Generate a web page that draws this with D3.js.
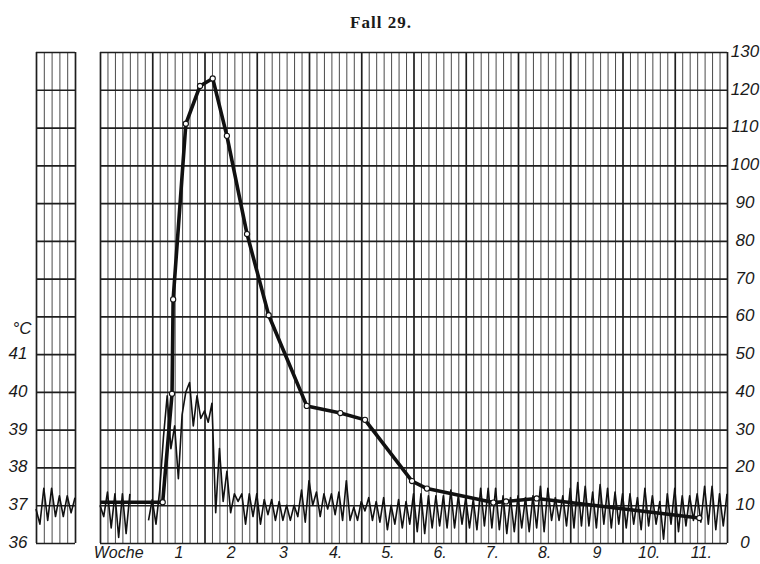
<!DOCTYPE html>
<html>
<head>
<meta charset="utf-8">
<script src="https://cdn.jsdelivr.net/npm/d3@7"></script>
<style>
    body { margin: 0; background: #fff; }
    svg text { font-family: "Liberation Sans", Arial, sans-serif; font-style: italic; fill: #1a1a1a; }
</style>
</head>
<body>
<svg id="chart" width="760" height="564"></svg>
<script>
// labels under the main panel, one per week
let WEEK_LABELS = ['Woche', '1', '2', '3', '4.', '5.', '6.', '7.', '8.', '9', '10.', '11.'];
// right hand scale
let RIGHT_TICKS = [0, 10, 20, 30, 40, 50, 60, 70, 80, 90, 100, 110, 120, 130];
// temperature scale on the left
let TEMP_TICKS = [36, 37, 38, 39, 40, 41];

// thick curve (right scale): day of the reading and its value
let CURVE_DAYS = [0, 8.4, 9.65, 9.8, 11.5, 13.4, 15.1, 17.0, 19.7, 22.6, 27.7, 32.2, 35.5, 41.8, 43.8, 52.7, 54.4, 58.5, 80.3];
let CURVE_VALUES = [10.8, 10.8, 39.5, 64.5, 111, 121, 123, 107.8, 81.8, 60.3, 36.3, 34.4, 32.6, 16.4, 14.4, 10.7, 11.0, 11.8, 6.6];

// temperature before the main chart (left strip), morning / evening, 5 days
let TEMP_PRE = [36.9, 36.5, 37.45, 36.6, 37.45, 36.7, 37.25, 36.7, 37.25, 36.8, 37.2];

// temperature, morning / evening readings (half a day apart), one line per week
// null = no reading
let TEMP_MAIN = [
    37.0, 36.7, 37.35, 36.4, 37.3, 36.15, 37.3, 36.25, 37.3, null, null, null, null, 36.6,
    37.15, 36.5, 37.4, 38.8, 39.9, 38.5, 39.1, 37.7, 39.4, 40.0, 40.25, 39.1, 39.9, 39.3,
    39.5, 39.2, 39.7, 36.8, 38.5, 37.1, 37.9, 36.8, 37.3, 37.1, 37.3, 36.5, 37.3, 36.7,
    37.3, 36.5, 37.15, 36.75, 37.15, 36.6, 37.1, 36.6, 37.0, 36.6, 37.0, 36.7, 37.4, 36.55,
    37.65, 37.0, 37.35, 36.7, 37.3, 36.9, 37.3, 36.75, 37.35, 36.6, 37.65, 36.6, 36.95, 36.6,
    37.1, 36.85, 37.2, 36.6, 37.1, 36.55, 37.2, 36.35, 37.0, 36.5, 37.15, 36.4, 37.1, 36.5,
    37.3, 36.3, 37.3, 36.25, 37.25, 36.4, 37.25, 36.45, 37.25, 36.4, 37.4, 36.4, 37.25, 36.5,
    37.2, 36.4, 37.15, 36.35, 37.45, 36.45, 37.45, 36.4, 37.45, 36.35, 37.25, 36.25, 37.2, 36.3,
    37.25, 36.4, 37.2, 36.3, 37.25, 36.4, 37.5, 36.3, 37.45, 36.6, 37.2, 36.6, 37.25, 36.45,
    37.45, 36.4, 37.6, 36.45, 37.5, 36.45, 37.35, 36.4, 37.55, 36.5, 37.45, 36.4, 37.35, 36.5,
    37.3, 36.4, 37.3, 36.5, 37.2, 36.35, 37.45, 36.45, 37.25, 36.5, 37.1, 36.1, 37.3, 36.5,
    37.45, 36.3, 37.25, 36.45, 37.25, 36.6, 37.3, 36.55, 37.5, 36.5, 37.5, 36.35, 37.3, 36.45,
    37.3
];

let TOP = 52, BOTTOM = 543;
let MAIN_LEFT = 100, MAIN_RIGHT = 727;
let PRE_LEFT = 36, PRE_RIGHT = 75;
let MAIN_DAYS = 84, PRE_DAYS = 5;

let svg = d3.select('#chart');

let y = d3.scaleLinear().domain([0, 130]).range([BOTTOM, TOP]);
// 1 degree = 10 units on the right scale, 36 sits on the bottom line
let yTemp = d3.scaleLinear().domain([36, 49]).range([BOTTOM, TOP]);
let xMain = d3.scaleLinear().domain([0, MAIN_DAYS]).range([MAIN_LEFT, MAIN_RIGHT]);
let xPre = d3.scaleLinear().domain([0, PRE_DAYS]).range([PRE_LEFT, PRE_RIGHT]);

// title
svg.append('text')
    .attr('x', 381).attr('y', 28)
    .attr('text-anchor', 'middle')
    .style('font-family', '"Liberation Serif", "DejaVu Serif", serif')
    .style('font-style', 'normal')
    .style('font-weight', 'bold')
    .style('font-size', '17px')
    .style('letter-spacing', '1px')
    .text('Fall 29.');

// grid for one panel: daily vertical lines, heavier every week, horizontal every 10
function drawGrid(x, left, right, days) {
    let g = svg.append('g');
    let heavy = d => (d % 7 === 0 && x === xMain) || d === 0 || d === days;
    g.append('g')
        .attr('transform', `translate(0,${BOTTOM})`)
        .call(d3.axisBottom(x).tickValues(d3.range(0, days + 1)).tickSize(-(BOTTOM - TOP)).tickFormat(''))
        .call(a => a.select('.domain').remove())
        .call(a => a.selectAll('.tick line')
            .attr('stroke', d => heavy(d) ? '#1e1e1e' : '#4a4a4a')
            .attr('stroke-width', d => heavy(d) ? 1.7 : 1));
    g.append('g')
        .attr('transform', `translate(${left},0)`)
        .call(d3.axisLeft(y).tickValues(RIGHT_TICKS).tickSize(-(right - left)).tickFormat(''))
        .call(a => a.select('.domain').remove())
        .call(a => a.selectAll('.tick line').attr('stroke', '#1e1e1e').attr('stroke-width', 1.7));
}
drawGrid(xPre, PRE_LEFT, PRE_RIGHT, PRE_DAYS);
drawGrid(xMain, MAIN_LEFT, MAIN_RIGHT, MAIN_DAYS);

// right axis labels
svg.append('g')
    .attr('transform', 'translate(745,-1)')
    .call(d3.axisRight(y).tickValues(RIGHT_TICKS).tickSize(0).tickPadding(0))
    .call(a => a.select('.domain').remove())
    .call(a => a.selectAll('text')
        .attr('text-anchor', 'middle')
        .style('font-size', '17px'));

// temperature labels on the left
svg.append('g')
    .attr('transform', 'translate(18,-1)')
    .call(d3.axisRight(yTemp).tickValues(TEMP_TICKS).tickSize(0).tickPadding(0))
    .call(a => a.select('.domain').remove())
    .call(a => a.selectAll('text')
        .attr('text-anchor', 'middle')
        .style('font-size', '17px'));
svg.append('text')
    .attr('x', 22).attr('y', 334)
    .attr('text-anchor', 'middle')
    .style('font-size', '17px')
    .text('°C');

// week labels
svg.append('g')
    .attr('transform', `translate(0,${BOTTOM})`)
    .call(d3.axisBottom(xMain)
        .tickValues(WEEK_LABELS.map((d, i) => i * 7 + 3.5))
        .tickSize(0).tickPadding(4)
        .tickFormat((d, i) => WEEK_LABELS[i]))
    .call(a => a.select('.domain').remove())
    .call(a => a.selectAll('text')
        .attr('dx', (d, i) => i === 0 ? -8 : 0)
        .style('font-size', '16px'));

// temperature curves
let tempLine = x => d3.line()
    .defined(d => d != null)
    .x((d, i) => x(i * 0.5))
    .y(d => yTemp(d));

svg.append('path')
    .datum(TEMP_PRE)
    .attr('d', tempLine(xPre))
    .attr('fill', 'none')
    .attr('stroke', '#111')
    .attr('stroke-width', 1.6)
    .attr('stroke-linejoin', 'round');

svg.append('path')
    .datum(TEMP_MAIN)
    .attr('d', tempLine(xMain))
    .attr('fill', 'none')
    .attr('stroke', '#111')
    .attr('stroke-width', 1.6)
    .attr('stroke-linejoin', 'round');

// thick curve with open markers
let curve = CURVE_DAYS.map((d, i) => ({ day: d, value: CURVE_VALUES[i] }));

svg.append('path')
    .datum(curve)
    .attr('d', d3.line().x(d => xMain(d.day)).y(d => y(d.value)))
    .attr('fill', 'none')
    .attr('stroke', '#111')
    .attr('stroke-width', 3.6)
    .attr('stroke-linejoin', 'round');

svg.selectAll('circle.mark')
    .data(curve.slice(1))
    .enter().append('circle')
    .attr('class', 'mark')
    .attr('cx', d => xMain(d.day))
    .attr('cy', d => y(d.value))
    .attr('r', 2.6)
    .attr('fill', '#fff')
    .attr('stroke', '#111')
    .attr('stroke-width', 1.1);
</script>
</body>
</html>
